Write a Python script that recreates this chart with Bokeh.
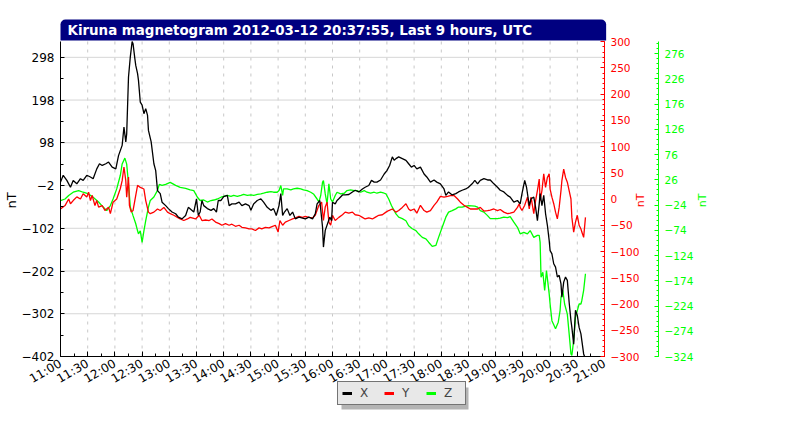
import math
from bokeh.plotting import figure
from bokeh.models import (LinearAxis, Range1d, FixedTicker, Legend, LegendItem, BoxAnnotation, Label)
from bokeh.embed import file_html
from bokeh.resources import INLINE

# minutes after 11:00 UTC, values in nT
x_time = [0,3,7,11,14,18,22,25,29,33,36,40,43,46,50,53,57,61,64,68,70,72,73,75,77,79,80,82,83,85,86,88,90,92,94,96,97,100,103,105,107,110,112,116,119,123,127,130,134,138,141,
          147,150,152,154,156,158,162,166,169,172,174,177,180,184,186,189,193,197,200,204,208,210,213,217,221,224,228,232,235,238,241,243,245,247,250,253,256,259,263,267,270,274,278,281,283,286,289,290,292,
          297,299,300,303,305,307,311,314,318,322,325,329,333,336,340,343,346,349,353,357,360,363,366,368,370,373,377,381,384,387,390,393,397,401,404,408,412,415,419,423,425,428,432,436,439,443,447,450,454,457,
          460,463,467,471,474,478,482,485,489,493,496,500,504,507,509,512,514,517,519,522,524,526,528,529,531,533,535,537,539,540,542,544,546,548,550,552,553,555,557,559,561,563,564,566,568,570,572,574,575,577,578]
x_vals = [6,22,10,-6,10,2,14,10,22,18,14,37,49,45,49,53,41,37,68,92,135,100,119,252,299,335,330,295,279,260,244,193,186,166,178,162,127,100,49,33,-14,-21,-41,-49,-56,-64,-68,-76,-80,-72,-53,
          -64,-33,-72,-64,-37,-49,-56,-60,-56,-64,-37,-37,-28,-25,-49,-45,-45,-41,-49,-45,-49,-60,-45,-37,-33,-41,-53,-60,-56,-72,-49,-21,-72,-64,-56,-72,-64,-80,-76,-78,-80,-76,-80,-68,-45,-37,-99,-146,-107,
          -76,-84,-41,-45,-37,-33,-24,-24,-23,-17,-13,-17,-10,-6,-2,10,6,6,11,25,33,45,65,57,61,65,61,57,49,41,45,37,41,25,18,6,11,6,2,-10,-25,-17,-24,-21,-17,-13,-10,-6,2,10,
          2,10,14,11,11,2,-6,-13,-17,-25,-29,-41,-37,-45,-21,10,-6,-49,-33,-29,-53,-84,-45,-21,-49,-25,-68,-95,-131,-154,-162,-185,-193,-216,-212,-232,-263,-228,-216,-224,-275,-318,-334,-373,-294,-306,-334,-349,-365,-396,-402]

y_time = [0,5,9,11,14,18,22,25,29,31,33,35,36,38,40,42,46,49,53,55,58,62,64,66,68,70,72,73,75,76,78,80,83,85,88,92,94,97,99,103,107,110,114,118,121,125,129,132,136,140,143,
          149,153,156,160,164,167,171,175,178,182,186,189,193,197,200,204,208,211,215,219,222,226,230,234,237,240,242,245,248,252,256,259,263,267,270,274,278,281,285,288,290,292,
          294,296,298,300,303,307,311,314,318,322,325,329,333,336,340,344,347,351,355,359,362,366,370,373,377,381,384,386,390,393,397,401,404,408,412,415,419,423,427,430,434,438,441,445,449,452,457,
          460,463,467,471,474,478,482,485,489,493,496,500,504,506,507,509,512,515,517,519,522,524,526,528,529,531,533,535,537,539,540,542,544,546,548,550,552,553,555,557,559,561,563,564,566,568,570,572,574,575,577,579]
y_vals = [-19,-12.5,0,-9,-3,4,0,10,4,13,-3,7,0,-12.5,-3,-15.6,-12.5,-22,-15.6,-28,-6,0,10,20,35,61,35,3.5,42,-12,-25,-22,7,26,22,19,-3,-25,-28,-25,-19,-22,-16,-25,-28,-31,-35,-38,-41,-38,-35,
          -38,-31,-41,-40,-41,-38,-44,-47,-50,-47,-50,-48,-52,-50,-54,-55,-57,-57,-60,-55,-57,-54,-55,-52,-50,-63,-41,-50,-44,-41,-38,-36,-33,-35,-33,-35,-36,-31,-12,-6,-41,-15,
          -6,-44,-50,-31,-41,-35,-30,-25,-27,-25,-30,-31,-35,-38,-36,-38,-35,-31,-30,-25,-22,-19,-25,-22,-16,-9,-19,-22,-19,-27,-12,-22,-25,-22,-12,-6,5,3.5,5,6.6,6.6,0,-6,-12,-16,-19,-19,
          -19,-16,-23,-22,-21,-19,-22,-20,-25,-28,-27,-25,-16,-9,-16,-22,-12,3.5,-19,3.5,-28,-3,16,38,-3,16,48,22,41,48,19,3.5,-9,-25,-38,-16,16,35,57,41,32,16,0,-35,-63,-44,-31,-50,-57,-63,-73,-35]

z_time = [0,5,9,14,20,25,31,36,42,47,51,55,58,62,66,68,71,73,75,77,80,83,85,86,88,90,92,94,97,99,103,107,109,112,116,121,127,132,138,143,
          147,151,154,158,162,166,169,173,177,180,184,188,191,195,199,202,206,210,213,217,221,224,228,232,235,239,241,243,245,246,250,254,257,261,265,268,272,276,279,283,285,287,289,290,292,294,
          296,298,300,303,305,309,313,316,320,324,327,331,335,338,342,346,349,353,357,359,362,365,368,370,373,377,381,384,388,392,395,399,403,406,410,414,417,421,425,428,432,436,439,443,447,450,457,
          460,463,467,471,474,478,482,485,489,493,496,500,504,507,511,515,518,522,526,528,529,530,532,534,536,539,540,542,546,549,551,552,554,556,559,561,563,564,566,568,570,572,574,575,577,579]
z_vals = [-15,-12,-5,1.4,4.7,1.4,-2,-8.5,-18,-28,-35,-25,-12,8,35,57.5,69,57,18,-28,-45,-61,-75,-81,-75,-98,-75,-55,-28,-15,-8,5,17,15,17,21,15,11,9,6,
          4.7,-8.5,-15,-14,-18,-15,-14,-12,-8.5,-7,-5,-7,-5,-7,-5,-3,-5,-4,-5,-3,-2,-0.6,1.4,2.7,1.4,1.4,4.7,14.6,-5,8,8,6,8,9.3,8,6,4.7,1.4,-2,-12,-18,-5,21,24.5,-2,-22,
          17.9,-12,-18,-5,1.4,-2,-0.6,4.7,6,4.7,4.7,1.4,4.7,1.4,-0.6,1.4,-0.6,1.4,-0.6,-2,-12,-25,-35,-41.5,-48,-51,-55,-65,-71,-74.5,-81,-88,-91,-97.6,-106,-104,-88,-68,-48,-38,-35,-31.6,-28,-28,-26,-25,-26,
          -28,-35,-38,-45,-51,-51,-51,-50,-48,-49,-47,-58,-68,-81,-78,-81,-74.5,-88,-84,-84,-97.6,-167,-157,-193,-154,-200,-220,-253,-269,-256,-233,-207,-193,-220,-240,-279,-319,-322,-292,-246,-233,-220,-220,-213,-193,-160]

tick_minutes = list(range(0, 601, 30))
tick_labels = ["11:00","11:30","12:00","12:30","13:00","13:30","14:00","14:30","15:00","15:30",
               "16:00","16:30","17:00","17:30","18:00","18:30","19:00","19:30","20:00","20:30","21:00"]
left_ticks = [-402, -302, -202, -102, -2, 98, 198, 298]
red_ticks = [-300, -250, -200, -150, -100, -50, 0, 50, 100, 150, 200, 250, 300]
green_ticks = [-324, -274, -224, -174, -124, -74, -24, 26, 76, 126, 176, 226, 276]
left_lim = (-402, 335)
red_lim = (-300, 300)
green_lim = (-324, 300)
time_lim = (0, 600)
title_text = "Kiruna magnetogram 2012-03-12 20:37:55, Last 9 hours, UTC"
unit_label = "nT"
series_names = ["X", "Y", "Z"]

FONT = "DejaVu Sans"
RED = "#ff0000"
GREEN = "#00ff00"

# layout in pixels (the whole canvas is the drawing frame)
W, H = 800, 426
F_LEFT, F_RIGHT, F_TOP, AX_Y = 60, 604, 41, 356
GREEN_AX_X = 658
TITLE_Y = 19

mpp = (time_lim[1] - time_lim[0]) / (F_RIGHT - F_LEFT)   # minutes per pixel
def px_to_min(px):
    return time_lim[0] + (px - F_LEFT) * mpp

def y_range_for(lim):
    lo, hi = lim
    k = (hi - lo) / (AX_Y - F_TOP)
    return Range1d(lo - (H - AX_Y) * k, hi + F_TOP * k)

def py_to_left(py):
    k = (left_lim[1] - left_lim[0]) / (AX_Y - F_TOP)
    return left_lim[0] - (py - AX_Y) * k

p = figure(width=W, height=H, output_backend="svg", toolbar_location=None,
           x_range=Range1d(px_to_min(0), px_to_min(W)), y_range=y_range_for(left_lim),
           min_border_left=0, min_border_right=0, min_border_top=0, min_border_bottom=0)
p.outline_line_color = None
p.background_fill_color = "white"
p.border_fill_color = "white"
p.xgrid.visible = False
p.ygrid.visible = False

# grid lines (drawn first, under the curves)
p.segment(x0=tick_minutes, x1=tick_minutes,
          y0=[left_lim[0]] * len(tick_minutes), y1=[left_lim[1]] * len(tick_minutes),
          line_color="#c8c8c8", line_dash="3 5", line_width=1)
hg = left_ticks[1:]
p.segment(x0=[time_lim[0]] * len(hg), x1=[time_lim[1]] * len(hg), y0=hg, y1=hg,
          line_color="#d6d6d6", line_width=1)

# title bar
p.add_layout(Label(x=px_to_min(F_LEFT), y=py_to_left(TITLE_Y), text=title_text,
                   text_align="left", text_baseline="top",
                   text_color="white", text_font=FONT, text_font_style="bold", text_font_size="13.4px",
                   background_fill_color="#000080", background_fill_alpha=1.0,
                   padding=dict(left=7, right=74, top=3, bottom=3),
                   border_radius=dict(top_left=5, top_right=5, bottom_right=0, bottom_left=0)))

# x axis
xa = p.xaxis[0]
xa.fixed_location = left_lim[0]
xa.bounds = time_lim
xa.ticker = FixedTicker(ticks=tick_minutes, minor_ticks=list(range(0, 601, 15)))
xa.major_label_overrides = {m: s for m, s in zip(tick_minutes, tick_labels)}
xa.major_label_orientation = math.pi / 6
xa.major_label_text_font = FONT
xa.major_label_text_font_size = "12px"
xa.major_label_text_color = "black"
xa.major_tick_in = 5
xa.major_tick_out = 0
xa.minor_tick_in = 3
xa.minor_tick_out = 0
xa.major_label_standoff = 6
xa.axis_line_color = "black"

# left axis
ya = p.yaxis[0]
ya.fixed_location = time_lim[0]
ya.bounds = left_lim
ya.ticker = FixedTicker(ticks=left_ticks, minor_ticks=list(range(-352, 335, 100)))
ya.major_label_text_font = FONT
ya.major_label_text_font_size = "12px"
ya.major_label_text_color = "black"
ya.major_tick_in = 4
ya.major_tick_out = 0
ya.minor_tick_in = 3
ya.minor_tick_out = 0
ya.major_label_standoff = 6

# extra axes
p.extra_y_ranges = {"red": y_range_for(red_lim), "green": y_range_for(green_lim)}
red_axis = LinearAxis(y_range_name="red", bounds=red_lim, fixed_location=time_lim[1],
                      ticker=FixedTicker(ticks=red_ticks, minor_ticks=list(range(-300, 301, 10))),
                      axis_line_color=RED, major_tick_line_color=RED, minor_tick_line_color=RED,
                      major_label_text_color=RED, major_label_text_font=FONT,
                      major_label_text_font_size="10.5px",
                      major_tick_in=4, major_tick_out=0, minor_tick_in=2, minor_tick_out=0,
                      major_label_standoff=6)
p.add_layout(red_axis, "right")
green_axis = LinearAxis(y_range_name="green", bounds=green_lim, fixed_location=px_to_min(GREEN_AX_X),
                        ticker=FixedTicker(ticks=green_ticks, minor_ticks=list(range(-324, 301, 10))),
                        axis_line_color=GREEN, major_tick_line_color=GREEN, minor_tick_line_color=GREEN,
                        major_label_text_color=GREEN, major_label_text_font=FONT,
                        major_label_text_font_size="10.5px",
                        major_tick_in=4, major_tick_out=0, minor_tick_in=2, minor_tick_out=0,
                        major_label_standoff=6)
p.add_layout(green_axis, "right")

# unit labels of the three axes
for px, col, fs in [(11, "black", "13px"), (640, RED, "11px"), (702, GREEN, "11px")]:
    p.add_layout(Label(x=px_to_min(px), y=py_to_left(200), text=unit_label, angle=math.pi / 2,
                       text_align="center", text_baseline="middle",
                       text_color=col, text_font=FONT, text_font_size=fs))

# series
rZ = p.line(z_time, z_vals, line_color=GREEN, line_width=1.3, y_range_name="green")
rY = p.line(y_time, y_vals, line_color=RED, line_width=1.3, y_range_name="red")
rX = p.line(x_time, x_vals, line_color="black", line_width=1.3)

# legend swatches (thicker than the curves, as in the original key); no visible data
nan = float("nan")
sw = [p.line([nan], [nan], line_color=c, line_width=3) for c in ("black", RED, GREEN)]

# legend below the x axis, with a drop shadow
LEG_L, LEG_T, LEG_W, LEG_H, SH = 337, 383, 127, 22, 4
p.add_layout(BoxAnnotation(left=px_to_min(LEG_L + SH), right=px_to_min(LEG_L + LEG_W + SH),
                           top=py_to_left(LEG_T + SH), bottom=py_to_left(LEG_T + LEG_H + SH),
                           fill_color="#b4b4b4", fill_alpha=1.0, line_color=None, line_alpha=0))
legend = Legend(items=[LegendItem(label=n, renderers=[r]) for n, r in zip(series_names, sw)],
                orientation="horizontal", location=(LEG_L, H - LEG_T - LEG_H),
                background_fill_color="#e8e8e8", background_fill_alpha=1.0,
                border_line_color="black", border_line_width=1,
                label_text_font=FONT, label_text_font_size="12px",
                glyph_width=10, glyph_height=12, label_standoff=8, label_width=17,
                spacing=7, padding=4, margin=0)
p.add_layout(legend)

open("out.html", "w").write(file_html(p, INLINE))
